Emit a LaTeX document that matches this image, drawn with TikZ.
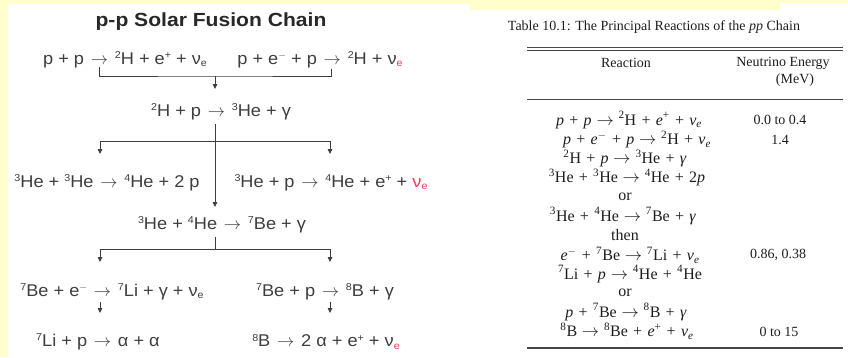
\documentclass[tikz,border=0pt]{standalone}
\usepackage{fontspec}
\usepackage{graphicx}
\setmainfont{Liberation Serif}
\newfontfamily\lsans[FakeStretch=1.07]{Liberation Sans}
\newfontfamily\lsanst[FakeStretch=1.11]{Liberation Sans}
\usetikzlibrary{arrows.meta}
\definecolor{bgyellow}{RGB}{255,255,204}
\definecolor{ink}{RGB}{62,62,62}
\definecolor{tink}{RGB}{30,30,30}
\definecolor{nured}{RGB}{225,60,95}
\definecolor{rulegray}{RGB}{70,70,70}
\newcommand{\lsp}[1]{\raisebox{5.5pt}{\fontsize{10}{10}\selectfont #1}}
\newcommand{\lsb}[1]{\raisebox{-2.5pt}{\fontsize{10}{10}\selectfont #1}}
\newcommand{\sps}[1]{\textsuperscript{#1}}
\newcommand{\sbs}[1]{\textsubscript{#1}}
\newcommand{\ra}{\hspace{0.1em}$\rightarrow$\hspace{0.1em}}
\newcommand{\tra}{\hspace{0.3em}$\rightarrow$\hspace{0.3em}}
\newcommand{\tp}{\hspace{0.33em}+\hspace{0.33em}}
\begin{document}
\begin{tikzpicture}[x=1pt,y=-1pt,
  lbl/.style={text=ink,font=\lsans\fontsize{17}{19}\selectfont,inner sep=0pt,anchor=center},
  ttl/.style={text=ink!65!black,font=\lsanst\bfseries\fontsize{19}{22}\selectfont,inner sep=0pt},
  tbl/.style={text=tink,font=\fontsize{14}{16}\selectfont,inner sep=0pt},
  trow/.style={text=tink,font=\fontsize{16}{18}\selectfont,inner sep=0pt},
  link/.style={draw=ink,line width=0.8pt},
  arr/.style={link,-{Triangle[length=5pt,width=4.5pt]}},
  trule/.style={draw=rulegray,line width=0.9pt}
]
\useasboundingbox (0,0) rectangle (848,357);
\fill[bgyellow] (0,0) rectangle (848,357);
\fill[white] (8,4) rectangle (470,357);
\fill[white] (470,10) rectangle (848,357);
\fill[white] (780,3) rectangle (848,10);

% ---------- left panel ----------
\node[ttl] (title) at (211,22) {p-p Solar Fusion Chain};
\node[lbl] (r1a) at (125,60) {p + p \ra{} \lsp{2}H + e\lsp{+} + ν\lsb{e}};
\node[lbl] (r1b) at (320,60) {p + e\lsp{$-$} + p \ra{} \lsp{2}H + ν\lsb{\textcolor{nured}{e}}};
\node[lbl] (r2) at (221,112) {\lsp{2}H + p \ra{} \lsp{3}He + γ};
\node[lbl] (r3a) at (107,183) {\lsp{3}He + \lsp{3}He \ra{} \lsp{4}He + 2 p};
\node[lbl] (r3b) at (331,183) {\lsp{3}He + p \ra{} \lsp{4}He + e\lsp{+} + \textcolor{nured}{ν\lsb{e}}};
\node[lbl] (r4) at (222,225) {\lsp{3}He + \lsp{4}He \ra{} \lsp{7}Be + γ};
\node[lbl] (r5a) at (112,292) {\lsp{7}Be + e\lsp{$-$} \ra{} \lsp{7}Li + γ + ν\lsb{e}};
\node[lbl] (r5b) at (325,292) {\lsp{7}Be + p \ra{} \lsp{8}B + γ};
\node[lbl] (r6a) at (98,342) {\lsp{7}Li + p \ra{} α + α};
\node[lbl] (r6b) at (326,342) {\lsp{8}B \ra{} 2 α + e\lsp{+} + ν\lsb{\textcolor{nured}{e}}};

\coordinate (t1) at (99,67);
\coordinate (t2) at (331,69);
\coordinate (j1) at (215,76);
\coordinate (a1) at (215,89);
\draw[link] (t1) |- (j1) -| (t2);
\draw[arr] (j1) -- (a1);

\coordinate (k1) at (215,124);
\coordinate (k1e) at (215,207);
\coordinate (s1) at (215,141);
\coordinate (s1l) at (100,154);
\coordinate (s1r) at (330,154);
\draw[arr] (k1) -- (k1e);
\draw[arr] (s1) -| (s1l);
\draw[arr] (s1) -| (s1r);

\coordinate (k2) at (215,237);
\coordinate (s2) at (215,249);
\coordinate (s2l) at (100,262);
\coordinate (s2r) at (330,262);
\draw[link] (k2) -- (s2);
\draw[arr] (s2) -| (s2l);
\draw[arr] (s2) -| (s2r);

\coordinate (u1) at (100,302);
\coordinate (u1e) at (100,313);
\coordinate (u2) at (330,302);
\coordinate (u2e) at (330,313);
\draw[arr] (u1) -- (u1e);
\draw[arr] (u2) -- (u2e);

% ---------- right panel: table ----------
\node[tbl] (cap) at (654,27) {Table 10.1: The Principal Reactions of the \textit{pp} Chain};
\coordinate (ra) at (527,47);  \coordinate (rb) at (843,47);
\coordinate (rc) at (527,50.5);\coordinate (rd) at (843,50.5);
\coordinate (re) at (527,99);  \coordinate (rf) at (843,99);
\coordinate (rg) at (527,348); \coordinate (rh) at (843,348);
\draw[trule] (ra) -- (rb);
\draw[trule] (rc) -- (rd);
\draw[trule] (re) -- (rf);
\draw[trule,line width=1.3pt] (rg) -- (rh);

\node[tbl] (hR) at (626,63) {Reaction};
\node[tbl] (hN) at (783,63) {Neutrino Energy};
\node[tbl] (hM) at (795,80) {(MeV)};

\node[trow] (t01) at (629,120) {\textit{p}\tp\textit{p}\tra\sps{2}H\tp\textit{e}\sps{+}\tp\textit{ν}\sbs{\textit{e}}};
\node[trow] (t02) at (637,139.5) {\textit{p}\tp\textit{e}\sps{$-$}\tp\textit{p}\tra\sps{2}H\tp\textit{ν}\sbs{\textit{e}}};
\node[trow] (t03) at (625,158.5) {\sps{2}H\tp\textit{p}\tra\sps{3}He\tp\textit{γ}};
\node[trow] (t04) at (627,177.5) {\sps{3}He\tp\sps{3}He\tra\sps{4}He\tp2\textit{p}};
\node[trow] (t05) at (625,197) {or};
\node[trow] (t06) at (623,216) {\sps{3}He\tp\sps{4}He\tra\sps{7}Be\tp\textit{γ}};
\node[trow] (t07) at (625,235) {then};
\node[trow] (t08) at (630,255) {\textit{e}\sps{$-$}\tp\sps{7}Be\tra\sps{7}Li\tp\textit{ν}\sbs{\textit{e}}};
\node[trow] (t09) at (630,274) {\sps{7}Li\tp\textit{p}\tra\sps{4}He\tp\sps{4}He};
\node[trow] (t10) at (625,293) {or};
\node[trow] (t11) at (626,312) {\textit{p}\tp\sps{7}Be\tra\sps{8}B\tp\textit{γ}};
\node[trow] (t12) at (627,331) {\sps{8}B\tra\sps{8}Be\tp\textit{e}\sps{+}\tp\textit{ν}\sbs{\textit{e}}};

\node[tbl] (v01) at (780,120) {0.0 to 0.4};
\node[tbl] (v02) at (780,139.5) {1.4};
\node[tbl] (v08) at (778,255) {0.86, 0.38};
\node[tbl] (v12) at (779,332) {0 to 15};
\end{tikzpicture}
\end{document}
